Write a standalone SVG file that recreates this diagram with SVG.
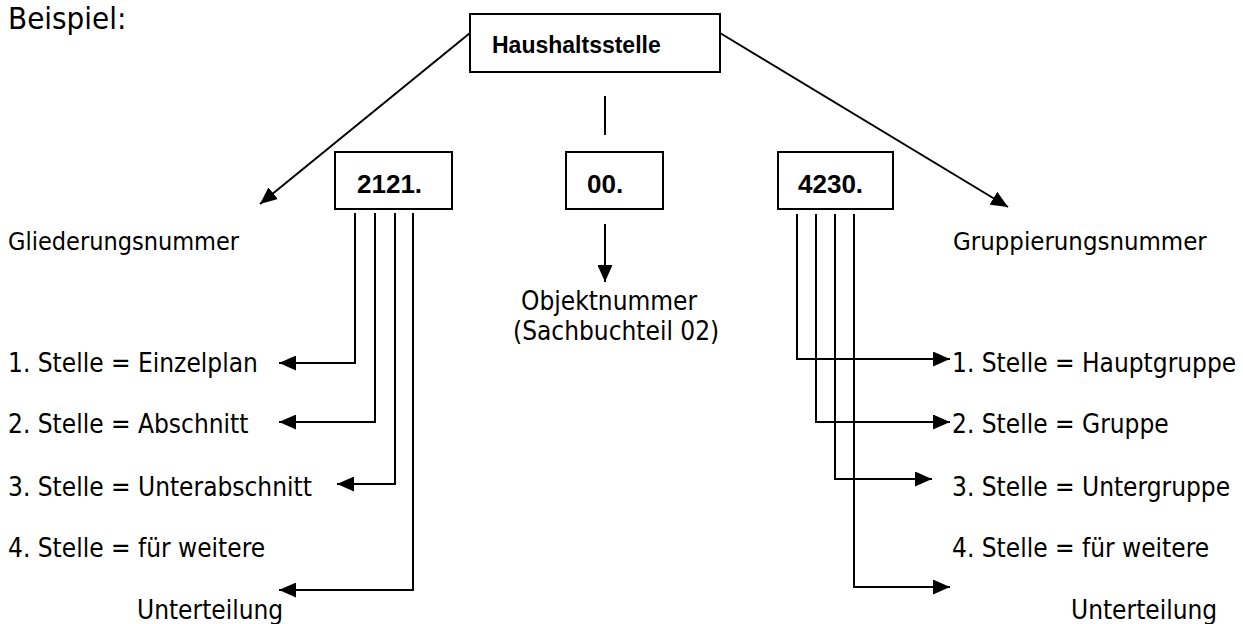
<svg xmlns="http://www.w3.org/2000/svg" width="1243" height="624" viewBox="0 0 1243 624">
<style>
.t{font-family:"DejaVu Sans Condensed","DejaVu Sans",sans-serif;font-stretch:condensed;font-size:26px;fill:#000}
.b{font-family:"Liberation Sans",Arial,sans-serif;font-weight:bold;fill:#000}
.box{fill:#fff;stroke:#000;stroke-width:2}
.ln{fill:none;stroke:#000;stroke-width:2}
</style>
<defs>
<marker id="ah" markerUnits="userSpaceOnUse" markerWidth="17" markerHeight="15" refX="17" refY="7.5" orient="auto">
<path d="M0,0 L17,7.5 L0,15 z" fill="#000"/>
</marker>
</defs>
<rect width="1243" height="624" fill="#fff"/>
<text class="t" x="8" y="29" style="font-size:31px">Beispiel:</text>

<g id="haushaltsstelle">
<rect class="box" x="470" y="14" width="250" height="58"/>
<text class="b" x="492" y="53" font-size="23">Haushaltsstelle</text>
</g>
<g id="n2121">
<rect class="box" x="335" y="152" width="117" height="57"/>
<text class="b" x="357" y="193" font-size="26">2121.</text>
</g>
<g id="n00">
<rect class="box" x="566" y="152" width="97" height="57"/>
<text class="b" x="587" y="193" font-size="26">00.</text>
</g>
<g id="n4230">
<rect class="box" x="778" y="152" width="115" height="57"/>
<text class="b" x="798" y="193" font-size="26">4230.</text>
</g>

<g id="labels">
<text class="t" x="8" y="250" style="font-size:25px">Gliederungsnummer</text>
<text class="t" x="953" y="250" style="font-size:25.5px">Gruppierungsnummer</text>
<text class="t" x="521" y="310">Objektnummer</text>
<text class="t" x="513" y="340">(Sachbuchteil 02)</text>
<text class="t" x="8" y="372">1. Stelle = Einzelplan</text>
<text class="t" x="8" y="433">2. Stelle = Abschnitt</text>
<text class="t" x="8" y="496">3. Stelle = Unterabschnitt</text>
<text class="t" x="8" y="557">4. Stelle = für weitere</text>
<text class="t" x="137" y="619">Unterteilung</text>
<text class="t" x="952" y="372">1. Stelle = Hauptgruppe</text>
<text class="t" x="952" y="433">2. Stelle = Gruppe</text>
<text class="t" x="952" y="496">3. Stelle = Untergruppe</text>
<text class="t" x="952" y="557">4. Stelle = für weitere</text>
<text class="t" x="1071" y="619">Unterteilung</text>
</g>

<g id="connectors">
<path class="ln" d="M470,33 L260,204" marker-end="url(#ah)"/>
<path class="ln" d="M720,33 L1008,207" marker-end="url(#ah)"/>
<path class="ln" d="M605,96 L605,135"/>
<path class="ln" d="M605,224 L605,282" marker-end="url(#ah)"/>
<path class="ln" d="M355,213 L355,363 L279,363" marker-end="url(#ah)"/>
<path class="ln" d="M375,213 L375,422 L279,422" marker-end="url(#ah)"/>
<path class="ln" d="M395,213 L395,484 L337,484" marker-end="url(#ah)"/>
<path class="ln" d="M413,213 L413,590 L279,590" marker-end="url(#ah)"/>
<path class="ln" d="M797,214 L797,359 L950,359" marker-end="url(#ah)"/>
<path class="ln" d="M816,214 L816,422 L950,422" marker-end="url(#ah)"/>
<path class="ln" d="M835,214 L835,479 L932,479" marker-end="url(#ah)"/>
<path class="ln" d="M854,214 L854,587 L950,587" marker-end="url(#ah)"/>
</g>
</svg>
